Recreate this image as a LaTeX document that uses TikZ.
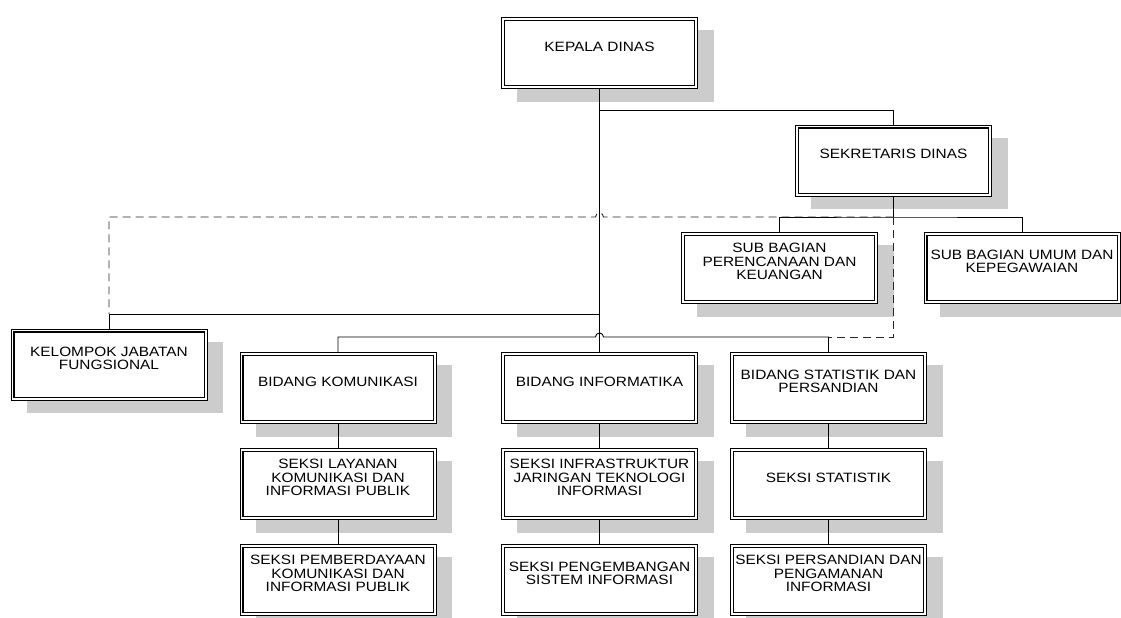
\documentclass[tikz,border=0pt]{standalone}
\usepackage{fontspec}
\setmainfont{Liberation Sans}
\newfontfamily\boxfont[FakeStretch=1.14]{Liberation Sans}
\pgfdeclarelayer{shadowlayer}
\pgfdeclarelayer{linelayer}
\pgfsetlayers{shadowlayer,linelayer,main}
\tikzset{
  orgbox/.style={draw=black, line width=0.8pt, fill=white, minimum width=196pt, minimum height=71pt, inner sep=0pt},
  orginner/.style={draw=black, line width=1.4pt},
  orgtext/.style={font=\boxfont\fontsize{13.5}{13.2}\selectfont, align=center, inner sep=0pt, text=black},
  shade/.style={fill=black!20, draw=none},
  conn/.style={draw=black, line width=0.9pt},
  coordline/.style={draw=black!85, line width=0.9pt, dash pattern=on 8pt off 5pt},
}
\newcommand\orgunit[4]{%
  \node[orgbox] (#1) at (#2,#3) {};
  \draw[orginner] ([shift={(3.2pt,3.2pt)}]#1.south west) rectangle ([shift={(-3.2pt,-3.2pt)}]#1.north east);
  \node[orgtext] (#1-t) at ([yshift=6.5pt]#1.center) {#4};
  \begin{pgfonlayer}{shadowlayer}
    \fill[shade] ([shift={(16pt,-13pt)}]#1.south west) rectangle ([shift={(16pt,-13pt)}]#1.north east);
  \end{pgfonlayer}
}
\begin{document}
\begin{tikzpicture}[x=1pt,y=-1pt]
\useasboundingbox (0,0) rectangle (1121,618);
\orgunit{kepala}{599.5}{53}{KEPALA DINAS}
\orgunit{sekretaris}{893.5}{160.5}{SEKRETARIS DINAS}
\orgunit{subren}{779.5}{268}{SUB BAGIAN\\PERENCANAAN DAN\\KEUANGAN}
\orgunit{subumum}{1022}{268}{SUB BAGIAN UMUM DAN\\KEPEGAWAIAN}
\orgunit{kelompok}{109}{364.5}{KELOMPOK JABATAN\\FUNGSIONAL}
\orgunit{bkom}{338}{388}{BIDANG KOMUNIKASI}
\orgunit{binf}{599.5}{388}{BIDANG INFORMATIKA}
\orgunit{bstat}{828.5}{388}{BIDANG STATISTIK DAN\\PERSANDIAN}
\orgunit{slay}{338}{484}{SEKSI LAYANAN\\KOMUNIKASI DAN\\INFORMASI PUBLIK}
\orgunit{sinfra}{599.5}{484}{SEKSI INFRASTRUKTUR\\JARINGAN TEKNOLOGI\\INFORMASI}
\orgunit{sstat}{828.5}{484}{SEKSI STATISTIK}
\orgunit{spemb}{338}{580}{SEKSI PEMBERDAYAAN\\KOMUNIKASI DAN\\INFORMASI PUBLIK}
\orgunit{speng}{599.5}{580}{SEKSI PENGEMBANGAN\\SISTEM INFORMASI}
\orgunit{spers}{828.5}{580}{SEKSI PERSANDIAN DAN\\PENGAMANAN\\INFORMASI}
\coordinate (sbus) at (sekretaris.south |- 0,217);
\coordinate (kbus) at (kepala.south |- 0,314);
\coordinate (bbus) at (binf.north |- 0,337);
\coordinate (tcross) at (kepala.south |- 0,217);
\begin{pgfonlayer}{linelayer}
  \draw[conn] (kepala.south) -- (binf.north);
  \draw[conn] (kepala.south |- 0,110) -| (sekretaris.north);
  \draw[conn] (sekretaris.south) -- (sbus);
  \draw[conn] (subren.north) |- (sbus) -| (subumum.north);
  \draw[conn] (kelompok.north) |- (kbus);
  \draw[conn] (bkom.north) |- ([xshift=-4pt]bbus) arc[start angle=180,end angle=0,radius=4pt] -| (bstat.north);
  \draw[coordline] (sbus) |- (bstat.north |- bbus);
  \draw[coordline] (sbus) -- ([xshift=4pt]tcross) arc[start angle=0,end angle=180,radius=4pt] -| (kbus -| kelompok.north);
  \draw[conn] (bkom.south) -- (slay.north);
  \draw[conn] (slay.south) -- (spemb.north);
  \draw[conn] (binf.south) -- (sinfra.north);
  \draw[conn] (sinfra.south) -- (speng.north);
  \draw[conn] (bstat.south) -- (sstat.north);
  \draw[conn] (sstat.south) -- (spers.north);
\end{pgfonlayer}
\end{tikzpicture}
\end{document}
